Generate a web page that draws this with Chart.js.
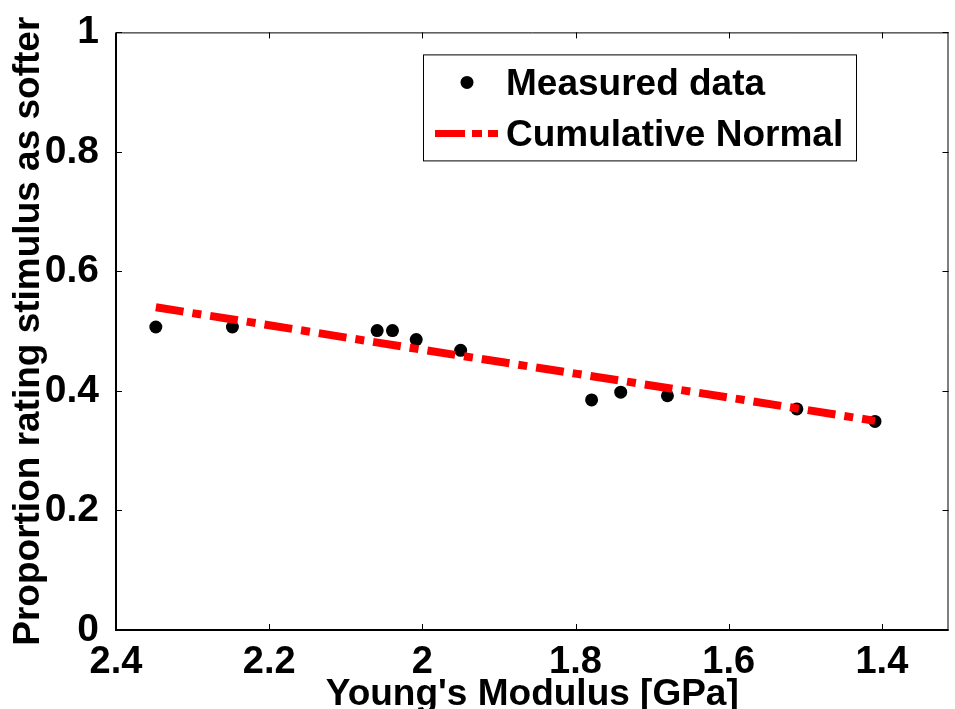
<!DOCTYPE html>
<html>
<head>
<meta charset="utf-8">
<script src="https://cdn.jsdelivr.net/npm/chart.js@4.4.0/dist/chart.umd.min.js"></script>
<style>
  html, body { margin: 0; padding: 0; background: #fff; overflow: hidden; }
  #wrap { width: 955px; height: 709px; position: relative; }
  canvas { display: block; }
</style>
</head>
<body>
<div id="wrap"><canvas id="chart"></canvas></div>
<script>
// measured points
const modulus = [2.348, 2.248, 2.059, 2.039, 2.008, 1.950, 1.779, 1.741, 1.680, 1.511, 1.409]
const proportion = [0.507, 0.507, 0.501, 0.501, 0.486, 0.468, 0.385, 0.398, 0.392, 0.370, 0.349]
// fitted curve
const fitModulus = [2.348, 2.2, 2.0, 1.8, 1.6, 1.409]
const fitProportion = [0.540, 0.510, 0.469, 0.429, 0.389, 0.350]

const xTicks = [2.4, 2.2, 2, 1.8, 1.6, 1.4]
const xTickLabels = ["2.4", "2.2", "2", "1.8", "1.6", "1.4"]
const yTicks = [0, 0.2, 0.4, 0.6, 0.8, 1]
const yTickLabels = ["0", "0.2", "0.4", "0.6", "0.8", "1"]
const legendLabels = ["Measured data", "Cumulative Normal"]

const FONT = "'Liberation Sans', Arial, sans-serif"
const dash = [28, 9, 9, 9]

// box + inward ticks like matlab
const framePlugin = {
    id: 'frame',
    afterDatasetsDraw(chart) {
        const ctx = chart.ctx
        const a = chart.chartArea
        const x = chart.scales.x
        const y = chart.scales.y
        ctx.save()
        ctx.strokeStyle = '#000'
        ctx.lineWidth = 1
        ctx.beginPath()
        xTicks.forEach(function(v){
            const px = Math.round(x.getPixelForValue(v)) + 0.5
            ctx.moveTo(px, a.bottom); ctx.lineTo(px, a.bottom - 6)
            ctx.moveTo(px, a.top); ctx.lineTo(px, a.top + 6)
        })
        yTicks.forEach(function(v){
            const py = Math.round(y.getPixelForValue(v)) + 0.5
            ctx.moveTo(a.left, py); ctx.lineTo(a.left + 6, py)
            ctx.moveTo(a.right, py); ctx.lineTo(a.right - 6, py)
        })
        // top and right edges, thin
        ctx.moveTo(a.left, a.top + 0.5); ctx.lineTo(a.right, a.top + 0.5)
        ctx.moveTo(a.right - 0.5, a.top); ctx.lineTo(a.right - 0.5, a.bottom)
        ctx.stroke()
        // left and bottom axes
        ctx.lineWidth = 2
        ctx.beginPath()
        ctx.moveTo(a.left, a.top); ctx.lineTo(a.left, a.bottom); ctx.lineTo(a.right, a.bottom)
        ctx.stroke()
        ctx.restore()
    },
    afterDraw(chart) {
        const ctx = chart.ctx
        const a = chart.chartArea
        const bx = a.left + 307, by = a.top + 22, bw = 433, bh = 106
        ctx.save()
        ctx.fillStyle = '#fff'
        ctx.fillRect(bx, by, bw, bh)
        ctx.strokeStyle = '#000'
        ctx.lineWidth = 1
        ctx.strokeRect(bx + 0.5, by + 0.5, bw, bh)

        // row 1: dot
        ctx.fillStyle = '#000'
        ctx.beginPath()
        ctx.arc(bx + 44, by + 28, 6.5, 0, Math.PI * 2)
        ctx.fill()
        // row 2: dashed sample
        ctx.strokeStyle = '#ff0000'
        ctx.lineWidth = 7
        ctx.setLineDash([30, 7, 10, 6])
        ctx.beginPath()
        ctx.moveTo(bx + 12, by + 79)
        ctx.lineTo(bx + 75, by + 79)
        ctx.stroke()
        ctx.setLineDash([])

        ctx.fillStyle = '#000'
        ctx.font = "bold 37px " + FONT
        ctx.textBaseline = 'middle'
        ctx.textAlign = 'left'
        ctx.fillText(legendLabels[0], bx + 83, by + 30)
        ctx.fillText(legendLabels[1], bx + 83, by + 81)
        ctx.restore()
    }
}

const ctx = document.getElementById('chart').getContext('2d')

const myChart = new Chart(ctx, {
    type: 'scatter',
    data: {
        datasets: [{
            label: legendLabels[1],
            data: fitModulus.map(function(v, i){ return {x: v, y: fitProportion[i]} }),
            showLine: true,
            pointRadius: 0,
            borderColor: '#ff0000',
            borderWidth: 8,
            borderDash: dash,
            borderCapStyle: 'butt',
            order: 0
        }, {
            label: legendLabels[0],
            data: modulus.map(function(v, i){ return {x: v, y: proportion[i]} }),
            pointRadius: 6.5,
            pointBackgroundColor: '#000',
            pointBorderWidth: 0,
            order: 1
        }]
    },
    options: {
        responsive: true,
        maintainAspectRatio: false,
        animation: false,
        layout: { padding: { top: 30, right: 2, left: 0, bottom: 0 } },
        plugins: {
            legend: { display: false },
            tooltip: { enabled: false }
        },
        scales: {
            x: {
                type: 'linear',
                reverse: true,
                min: 1.313,
                max: 2.4,
                afterBuildTicks: function(scale){ scale.ticks = xTicks.map(function(v){ return {value: v} }) },
                afterFit: function(scale){
                    scale.height = 79
                    scale.paddingRight = 0
                    scale.paddingLeft = 0
                },
                grid: { display: false },
                border: { display: false },
                ticks: {
                    padding: 2,
                    color: '#000',
                    font: { family: FONT, size: 38, weight: 'bold' },
                    maxRotation: 0,
                    autoSkip: false,
                    callback: function(v){ return xTickLabels[xTicks.indexOf(v)] }
                },
                title: {
                    display: true,
                    text: "Young's Modulus [GPa]",
                    color: '#000',
                    font: { family: FONT, size: 37, weight: 'bold', lineHeight: 1 },
                    padding: { top: 0, bottom: -4 }
                }
            },
            y: {
                min: 0,
                max: 1,
                afterBuildTicks: function(scale){ scale.ticks = yTicks.map(function(v){ return {value: v} }) },
                afterFit: function(scale){ scale.width = 116 },
                grid: { display: false },
                border: { display: false },
                ticks: {
                    padding: 9,
                    color: '#000',
                    font: { family: FONT, size: 39, weight: 'bold' },
                    callback: function(v){ return yTickLabels[yTicks.indexOf(v)] }
                },
                title: {
                    display: true,
                    text: 'Proportion rating stimulus as softer',
                    color: '#000',
                    font: { family: FONT, size: 37, weight: 'bold', lineHeight: 1 },
                    padding: { top: 10, bottom: 0 }
                }
            }
        }
    },
    plugins: [framePlugin]
})
</script>
</body>
</html>
